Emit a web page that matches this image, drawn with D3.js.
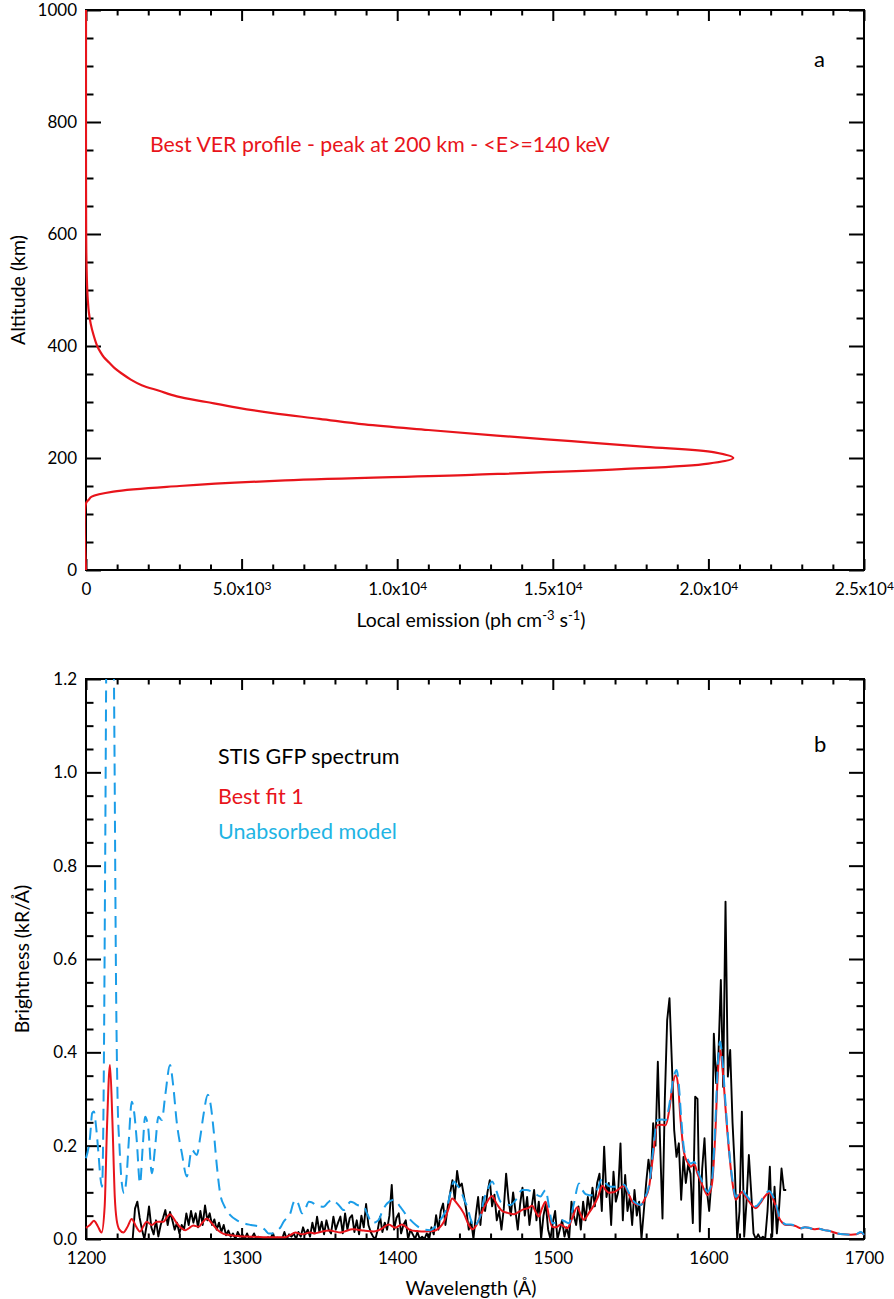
<!DOCTYPE html>
<html>
<head>
<meta charset="utf-8">
<script src="https://cdn.jsdelivr.net/npm/d3@7"></script>
<style>
  body { margin: 0; background: #fff; }
  svg text { font-family: Lato, "Open Sans", sans-serif; }
</style>
</head>
<body>
<svg id="chart" width="894" height="1299"></svg>
<script>
// ---- panel a : volume emission rate profile ----
const verAlt  = [0, 119, 125, 131, 140, 150, 160, 170, 180, 190, 200, 210, 220, 230, 240, 250, 260, 270, 280, 290,
                 300, 310, 320, 330, 340, 350, 360, 370, 380, 390, 400, 420, 440, 460, 480, 500, 550, 600, 700, 1000];
const verEmis = [0, 0, 80, 183, 880, 3000, 6400, 12400, 17200, 20000, 20800, 20200, 18000, 15600, 13200, 11000, 8950, 7500, 6000, 4850,
                 3870, 2920, 2350, 1790, 1440, 1170, 930, 750, 575, 455, 360, 240, 150, 92, 60, 40, 15, 5, 0, 0];
const emisTickMant = ['0', '5.0', '1.0', '1.5', '2.0', '2.5'];
const emisTickExp  = [null, '3', '4', '4', '4', '4'];
const emisTicks    = [0, 5000, 10000, 15000, 20000, 25000];
const altTicks     = [0, 200, 400, 600, 800, 1000];

// ---- panel b : STIS spectrum and models ----
const stisStart = 1230, stisStep = 1.5;   // wavelength grid of the GFP spectrum
const stisVals = [
  0.0, 0.065, 0.08, 0.045, 0.02, 0.0, 0.03, 0.07, 0.025, 0.01,
  0.04, 0.005, 0.03, 0.045, 0.062, 0.03, 0.058, 0.04, 0.02, 0.035,
  0.012, 0.03, 0.02, 0.055, 0.03, 0.06, 0.035, 0.055, 0.025, 0.06,
  0.03, 0.072, 0.04, 0.055, 0.03, 0.042, 0.02, 0.035, 0.015, 0.03,
  0.008, 0.018, 0.005, 0.012, 0.0, 0.015, 0.005, 0.01, 0.0, 0.012,
  0.0, 0.003, 0.012, 0.0, 0.005, 0.0, 0.002, 0.0, 0.004, 0.0,
  0.012, 0.0, 0.003, 0.0, 0.0, 0.015, 0.0, 0.01, 0.005, 0.012,
  0.0, 0.015, 0.005, 0.025, 0.01, 0.02, 0.005, 0.035, 0.012, 0.048,
  0.015, 0.037, 0.01, 0.04, 0.02, 0.012, 0.048, 0.02, 0.035, 0.048,
  0.012, 0.055, 0.02, 0.045, 0.051, 0.015, 0.04, 0.01, 0.05, 0.025,
  0.075, 0.03, 0.015, 0.005, 0.0, 0.02, 0.048, 0.015, 0.035, 0.02,
  0.05, 0.116, 0.02, 0.045, 0.055, 0.012, 0.03, 0.04, 0.0, 0.02,
  0.01, 0.0, 0.015, 0.0, 0.005, 0.0, 0.012, 0.0, 0.025, 0.01,
  0.051, 0.02, 0.06, 0.076, 0.03, 0.07, 0.098, 0.126, 0.085, 0.146,
  0.112, 0.119, 0.09, 0.06, 0.02, 0.04, 0.0, 0.05, 0.09, 0.03,
  0.09, 0.06, 0.1, 0.126, 0.07, 0.095, 0.04, 0.06, 0.02, 0.065,
  0.14, 0.085, 0.05, 0.1, 0.06, 0.02, 0.075, 0.11, 0.05, 0.09,
  0.03, 0.07, 0.105, 0.04, 0.08, 0.0, 0.05, 0.075, 0.02, 0.0,
  0.035, 0.06, 0.0, 0.02, 0.04, 0.005, 0.025, 0.0, 0.08, 0.05,
  0.03, 0.07, 0.02, 0.08, 0.04, 0.09, 0.06, 0.11, 0.07, 0.12,
  0.14, 0.06, 0.198, 0.09, 0.12, 0.03, 0.144, 0.08, 0.1, 0.205,
  0.04, 0.137, 0.06, 0.09, 0.03, 0.105, 0.05, 0.08, 0.0, 0.06,
  0.12, 0.17, 0.13, 0.248, 0.2, 0.38, 0.2, 0.044, 0.3, 0.469,
  0.516, 0.38, 0.234, 0.176, 0.205, 0.084, 0.176, 0.12, 0.16, 0.14,
  0.034, 0.305, 0.3, 0.016, 0.15, 0.216, 0.105, 0.06, 0.126, 0.44,
  0.334, 0.4, 0.555, 0.326, 0.723, 0.348, 0.405, 0.25, 0.148, 0.0,
  0.06, 0.273, 0.005, 0.08, 0.18, 0.1, 0.012, 0.0, 0.01, 0.0,
  0.005, 0.0, 0.06, 0.155, 0.005, 0.112, 0.012, 0.07, 0.151, 0.105,
  0.105
];

// [wavelength, brightness]
const bestFit = [[1200,0.024],[1202.5,0.03],[1205.1,0.039],[1207.5,0.028],[1210,0.014],[1212,0.07],[1213.5,0.24],[1215.4,0.373],[1217,0.25],[1218.5,0.09],
  [1219.7,0.041],[1221.5,0.02],[1224,0.014],[1226.5,0.025],[1229.4,0.043],[1232,0.028],[1234.7,0.016],[1237,0.028],[1239,0.037],[1242.3,0.03],
  [1245.5,0.037],[1249.8,0.037],[1252,0.047],[1254,0.053],[1256,0.046],[1258.3,0.034],[1261,0.024],[1263.7,0.019],[1266.5,0.024],[1269,0.029],
  [1272.3,0.026],[1275,0.036],[1277.6,0.044],[1280,0.037],[1282,0.029],[1285,0.018],[1288.4,0.011],[1293,0.008],[1299,0.006],[1306,0.005],
  [1314,0.004],[1321,0.004],[1328,0.004],[1331.5,0.009],[1334.5,0.014],[1338.8,0.01],[1344,0.014],[1347,0.012],[1350.6,0.015],[1357,0.018],
  [1360,0.016],[1363.5,0.014],[1367,0.017],[1371,0.021],[1374.5,0.02],[1378.5,0.018],[1385,0.016],[1390,0.022],[1394.5,0.031],[1398.8,0.024],
  [1403,0.031],[1406,0.025],[1408.5,0.019],[1413,0.017],[1417,0.016],[1423.5,0.017],[1427,0.024],[1430,0.037],[1433,0.065],[1435.3,0.087],
  [1438.5,0.076],[1442.8,0.055],[1446,0.03],[1448.2,0.021],[1451,0.03],[1453.5,0.05],[1457,0.075],[1461,0.092],[1464,0.075],[1467.5,0.06],
  [1471,0.056],[1475,0.053],[1478,0.058],[1481.4,0.064],[1484,0.066],[1486.8,0.071],[1489,0.058],[1491,0.048],[1493,0.065],[1495.4,0.08],
  [1497.5,0.05],[1499.7,0.026],[1502,0.025],[1505,0.031],[1507,0.027],[1509.3,0.023],[1512.5,0.045],[1515.7,0.068],[1518,0.052],[1520,0.041],
  [1523,0.055],[1526.5,0.073],[1529,0.09],[1531.8,0.114],[1534,0.105],[1536.1,0.099],[1539,0.1],[1541.5,0.105],[1543.5,0.11],[1545.8,0.114],
  [1548.5,0.098],[1551.1,0.08],[1554,0.074],[1556.5,0.073],[1559,0.085],[1561.9,0.112],[1564.5,0.18],[1567.2,0.244],[1570,0.245],[1572.6,0.244],
  [1575,0.28],[1577,0.33],[1579,0.351],[1580.5,0.33],[1582,0.26],[1584.4,0.184],[1586.5,0.165],[1588.7,0.155],[1591,0.16],[1593,0.14],
  [1595.1,0.123],[1597,0.108],[1599.4,0.094],[1601,0.1],[1602.6,0.126],[1604.5,0.23],[1606,0.35],[1607.5,0.405],[1609,0.37],[1611,0.28],
  [1613.3,0.187],[1615.5,0.12],[1617.6,0.084],[1620,0.095],[1622,0.101],[1624,0.09],[1626.2,0.08],[1628.5,0.07],[1630.5,0.066],[1633,0.075],
  [1636,0.09],[1639.1,0.099],[1641,0.09],[1643.4,0.069],[1645.5,0.045],[1647.7,0.034],[1650,0.03],[1653,0.03],[1656,0.028],[1659.5,0.023],
  [1662,0.025],[1664.5,0.024],[1668,0.021],[1671,0.022],[1674.5,0.019],[1678,0.017],[1683,0.012],[1687,0.01],[1691.6,0.009],[1695,0.01],
  [1698,0.014],[1700,0.009]];

const unabsorbed = [[1200,0.173],[1202.6,0.219],[1204,0.27],[1205.1,0.273],[1206.5,0.24],[1208,0.184],[1209.3,0.13],[1210.3,0.112],[1211.3,0.3],[1212.3,0.8],
  [1213.3,1.4],[1215,2.0],[1216.8,1.6],[1218.2,1.1],[1219.3,0.55],[1220.3,0.3],[1221.5,0.2],[1223,0.12],[1224.5,0.098],[1226,0.13],
  [1227.5,0.21],[1229.4,0.294],[1231,0.27],[1232.6,0.212],[1234.7,0.119],[1236.5,0.2],[1238,0.262],[1240,0.237],[1242.3,0.141],[1244.5,0.2],
  [1246.5,0.262],[1248.7,0.255],[1251,0.31],[1254,0.373],[1256,0.33],[1258.3,0.251],[1261.6,0.184],[1264.8,0.134],[1268,0.191],[1271.2,0.18],
  [1273.5,0.22],[1275.5,0.266],[1278.3,0.309],[1280,0.29],[1282,0.234],[1284,0.16],[1286.2,0.098],[1289,0.07],[1292.7,0.051],[1297,0.04],
  [1301.2,0.034],[1306,0.03],[1312,0.026],[1315,0.02],[1317.3,0.012],[1320,0.012],[1322.7,0.019],[1325,0.025],[1327,0.037],[1329,0.045],
  [1331.3,0.055],[1333,0.075],[1334.5,0.084],[1336.5,0.075],[1338.8,0.055],[1341,0.065],[1343.2,0.08],[1345.5,0.078],[1347.4,0.073],[1350,0.07],
  [1352.7,0.069],[1355.5,0.078],[1358,0.084],[1360,0.08],[1362.4,0.073],[1365.6,0.062],[1368,0.072],[1370,0.08],[1372,0.078],[1374.3,0.073],
  [1378.5,0.069],[1381,0.052],[1383.8,0.034],[1388.1,0.041],[1390.5,0.06],[1393.5,0.076],[1397.8,0.084],[1402,0.069],[1405,0.055],[1408.5,0.041],
  [1412,0.03],[1415,0.023],[1418,0.02],[1421.4,0.019],[1424,0.025],[1426.7,0.037],[1429.5,0.05],[1432.1,0.069],[1434.3,0.1],[1436.4,0.123],
  [1438.5,0.115],[1440.7,0.105],[1443,0.085],[1445,0.069],[1447,0.045],[1449.2,0.026],[1451.5,0.035],[1453.5,0.05],[1455.7,0.084],[1458,0.105],
  [1461,0.123],[1463.5,0.105],[1466.4,0.08],[1469.5,0.075],[1472.8,0.073],[1476.5,0.085],[1480.3,0.105],[1483,0.105],[1486.8,0.101],[1489.5,0.095],
  [1492.1,0.091],[1494,0.1],[1495.4,0.105],[1497.5,0.07],[1499.7,0.034],[1502.5,0.036],[1505,0.041],[1507.5,0.038],[1510.4,0.034],[1513.5,0.075],
  [1516.8,0.119],[1519,0.105],[1521.1,0.096],[1523.5,0.094],[1526.5,0.094],[1529,0.11],[1531.8,0.13],[1534.5,0.118],[1537.2,0.112],[1541.5,0.112],
  [1545.8,0.116],[1549,0.098],[1552.2,0.08],[1554.5,0.075],[1556.5,0.073],[1559,0.088],[1561.9,0.116],[1564.5,0.19],[1567.2,0.255],[1570,0.256],
  [1572.6,0.255],[1575,0.29],[1577.3,0.34],[1579.6,0.362],[1581,0.33],[1582.5,0.26],[1584.4,0.191],[1586.5,0.172],[1588.7,0.162],[1591,0.165],
  [1593,0.147],[1595.1,0.13],[1597,0.115],[1599.4,0.101],[1601,0.108],[1602.6,0.135],[1604.5,0.25],[1606,0.37],[1607.5,0.423],[1609,0.385],
  [1611,0.29],[1613.3,0.191],[1615.5,0.125],[1617.6,0.09],[1620,0.1],[1622,0.104],[1624,0.095],[1626.2,0.086],[1628.5,0.075],[1630.5,0.07],
  [1633,0.078],[1636,0.093],[1639.1,0.103],[1641,0.095],[1643.4,0.075],[1645.5,0.048],[1647.7,0.036],[1650,0.031],[1653,0.031],[1656,0.028],
  [1659.5,0.023],[1662,0.025],[1664.5,0.024],[1668,0.021],[1671,0.022],[1674.5,0.019],[1678,0.017],[1683,0.012],[1687,0.01],[1691.6,0.009],
  [1695,0.01],[1698,0.015],[1700,0.009]];

const waveTicks   = [1200, 1300, 1400, 1500, 1600, 1700];
const brightTicks = [0, 0.2, 0.4, 0.6, 0.8, 1.0, 1.2];
const legendLabels = ['STIS GFP spectrum', 'Best fit 1', 'Unabsorbed model'];

const RED = '#e8141b', BLUE = '#1b9de8', CYAN = '#1fb4e4';

const svg = d3.select('#chart');
const plotLeft = 86, plotRight = 864;

// draws box with inward ticks on all 4 sides, labels on left & bottom
function drawFrame(x, y, top, bottom, xMajor, xMinor, yMajor, yMinor, xFmt, yFmt) {
  const g = svg.append('g');
  const styleAxis = sel => {
    sel.select('.domain').remove();
    sel.selectAll('line').attr('stroke', 'black').attr('stroke-width', 2);
    sel.attr('font-size', 17).attr('font-family', 'Lato, sans-serif');
    sel.selectAll('text').attr('fill', 'black');
  };
  // bottom
  const xb = g.append('g').attr('transform', 'translate(0,' + bottom + ')')
    .call(d3.axisBottom(x).tickValues(xMajor).tickSize(-11).tickSizeOuter(0).tickPadding(13).tickFormat(xFmt));
  styleAxis(xb);
  g.append('g').attr('transform', 'translate(0,' + bottom + ')')
    .call(d3.axisBottom(x).tickValues(xMinor).tickSize(-5.5).tickSizeOuter(0).tickFormat('')).call(styleAxis);
  // top
  g.append('g').attr('transform', 'translate(0,' + top + ')')
    .call(d3.axisTop(x).tickValues(xMajor).tickSize(-11).tickSizeOuter(0).tickFormat('')).call(styleAxis);
  g.append('g').attr('transform', 'translate(0,' + top + ')')
    .call(d3.axisTop(x).tickValues(xMinor).tickSize(-5.5).tickSizeOuter(0).tickFormat('')).call(styleAxis);
  // left
  g.append('g').attr('transform', 'translate(' + plotLeft + ',0)')
    .call(d3.axisLeft(y).tickValues(yMajor).tickSize(-15).tickSizeOuter(0).tickPadding(9).tickFormat(yFmt)).call(styleAxis);
  g.append('g').attr('transform', 'translate(' + plotLeft + ',0)')
    .call(d3.axisLeft(y).tickValues(yMinor).tickSize(-7.5).tickSizeOuter(0).tickFormat('')).call(styleAxis);
  // right
  g.append('g').attr('transform', 'translate(' + plotRight + ',0)')
    .call(d3.axisRight(y).tickValues(yMajor).tickSize(-15).tickSizeOuter(0).tickFormat('')).call(styleAxis);
  g.append('g').attr('transform', 'translate(' + plotRight + ',0)')
    .call(d3.axisRight(y).tickValues(yMinor).tickSize(-7.5).tickSizeOuter(0).tickFormat('')).call(styleAxis);

  g.append('rect')
    .attr('x', plotLeft).attr('y', top)
    .attr('width', plotRight - plotLeft).attr('height', bottom - top)
    .attr('fill', 'none').attr('stroke', 'black').attr('stroke-width', 2);
  return xb;
}

function addClip(id, top, bottom) {
  svg.append('clipPath').attr('id', id).append('rect')
    .attr('x', plotLeft - 1).attr('y', top)
    .attr('width', plotRight - plotLeft + 2).attr('height', bottom - top);
}

// ================= panel a =================
const topA = 10, bottomA = 570;
const xA = d3.scaleLinear().domain([0, 25000]).range([plotLeft, plotRight]);
const yA = d3.scaleLinear().domain([0, 1000]).range([bottomA, topA]);
addClip('clipA', topA - 1, bottomA + 1);

const xAxisA = drawFrame(xA, yA, topA, bottomA, emisTicks,
  d3.range(0, 25001, 1000).filter(v => v % 5000 !== 0),
  altTicks, d3.range(0, 1001, 50).filter(v => v % 200 !== 0), d3.format('d'), d3.format('d'));

// exponent style tick labels, e.g. 5.0x10^3
xAxisA.selectAll('.tick text').each(function (d, i) {
  const t = d3.select(this).text('');
  t.append('tspan').text(emisTickMant[i] + (emisTickExp[i] ? 'x10' : ''));
  if (emisTickExp[i]) t.append('tspan').attr('dy', '-0.45em').attr('font-size', 12).text(emisTickExp[i]);
});

svg.append('path')
  .datum(verAlt.map((a, i) => ({ alt: a, emis: verEmis[i] })))
  .attr('clip-path', 'url(#clipA)')
  .attr('fill', 'none')
  .attr('stroke', RED)
  .attr('stroke-width', 2.2)
  .attr('stroke-linejoin', 'round')
  .attr('d', d3.line().x(d => xA(d.emis)).y(d => yA(d.alt)).curve(d3.curveCatmullRom.alpha(0.5)));

svg.append('text')
  .attr('transform', 'translate(25,' + (topA + bottomA) / 2 + ') rotate(-90)')
  .attr('text-anchor', 'middle').attr('font-size', 19.5)
  .text('Altitude (km)');

const xlabA = svg.append('text')
  .attr('x', 471).attr('y', 627)
  .attr('text-anchor', 'middle').attr('font-size', 19.5);
xlabA.append('tspan').text('Local emission (ph cm');
xlabA.append('tspan').attr('dy', -7).attr('font-size', 13).text('-3');
xlabA.append('tspan').attr('dy', 7).text(' s');
xlabA.append('tspan').attr('dy', -7).attr('font-size', 13).text('-1');
xlabA.append('tspan').attr('dy', 7).text(')');

svg.append('text')
  .attr('x', 150).attr('y', 152)
  .attr('fill', RED).attr('font-size', 21.3)
  .text('Best VER profile - peak at 200 km - <E>=140 keV');

svg.append('text')
  .attr('x', 814).attr('y', 67)
  .attr('font-size', 22)
  .text('a');

// ================= panel b =================
const topB = 679, bottomB = 1239;
const xB = d3.scaleLinear().domain([1200, 1700]).range([plotLeft, plotRight]);
const yB = d3.scaleLinear().domain([0, 1.2]).range([bottomB, topB]);
addClip('clipB', topB, bottomB + 1);

drawFrame(xB, yB, topB, bottomB, waveTicks,
  d3.range(1200, 1701, 20).filter(v => v % 100 !== 0),
  brightTicks, d3.range(0, 1.2001, 0.05).filter((v, i) => i % 4 !== 0), d3.format('d'), d3.format('.1f'));

const stis = stisVals.map((v, i) => [stisStart + i * stisStep, v]);

const lineB = d3.line().x(d => xB(d[0])).y(d => yB(d[1]));
const smoothB = d3.line().x(d => xB(d[0])).y(d => yB(d[1])).curve(d3.curveMonotoneX);

svg.append('path')
  .datum(stis)
  .attr('clip-path', 'url(#clipB)')
  .attr('fill', 'none')
  .attr('stroke', 'black')
  .attr('stroke-width', 1.9)
  .attr('stroke-linejoin', 'round')
  .attr('d', lineB);

svg.append('path')
  .datum(bestFit)
  .attr('clip-path', 'url(#clipB)')
  .attr('fill', 'none')
  .attr('stroke', RED)
  .attr('stroke-width', 2)
  .attr('d', smoothB);

svg.append('path')
  .datum(unabsorbed)
  .attr('clip-path', 'url(#clipB)')
  .attr('fill', 'none')
  .attr('stroke', BLUE)
  .attr('stroke-width', 2)
  .attr('stroke-dasharray', '12,7')
  .attr('d', smoothB);

svg.append('text')
  .attr('transform', 'translate(29,' + (topB + bottomB) / 2 + ') rotate(-90)')
  .attr('text-anchor', 'middle').attr('font-size', 19.5)
  .text('Brightness (kR/\u00C5)');

svg.append('text')
  .attr('x', 471).attr('y', 1295)
  .attr('text-anchor', 'middle').attr('font-size', 19.5)
  .text('Wavelength (\u00C5)');

svg.append('text')
  .attr('x', 814).attr('y', 752)
  .attr('font-size', 22)
  .text('b');

svg.selectAll('.legend')
  .data(legendLabels)
  .enter()
  .append('text')
  .attr('class', 'legend')
  .attr('x', 218)
  .attr('y', (d, i) => [764, 804, 839][i])
  .attr('font-size', 21.5)
  .attr('fill', (d, i) => ['black', RED, CYAN][i])
  .text(d => d);
</script>
</body>
</html>
